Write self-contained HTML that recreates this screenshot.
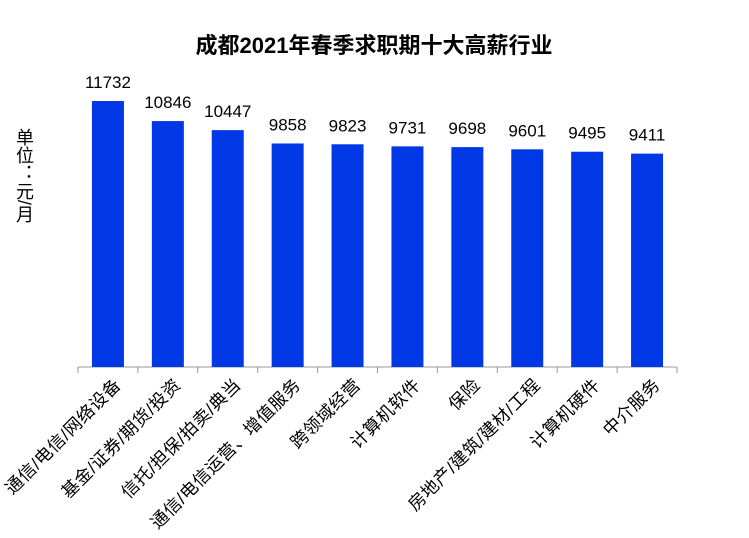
<!DOCTYPE html>
<html><head><meta charset="utf-8"><style>
body{margin:0;background:#fff;}
svg{display:block;font-family:"Liberation Sans","Noto Sans CJK SC",sans-serif;}
</style></head><body>
<svg width="749" height="538">
<text x="374" y="53" text-anchor="middle" font-size="22" font-weight="bold">成都2021年春季求职期十大高薪行业</text>
<text x="24" y="128" font-size="18" style="writing-mode:vertical-rl;glyph-orientation-vertical:0">单位：元/月</text>
<g id="plot"></g>
</svg>
<script>
const categories=["通信/电信/网络设备","基金/证券/期货/投资","信托/担保/拍卖/典当","通信/电信运营、增值服务","跨领域经营","计算机软件","保险","房地产/建筑/建材/工程","计算机硬件","中介服务"];
const values=[11732,10846,10447,9858,9823,9731,9698,9601,9495,9411];
const ns="http://www.w3.org/2000/svg";
const g=document.getElementById('plot');
const x0=78,x1=677,base=367,scale=266/11732;
const step=(x1-x0)/categories.length;
const xs=i=>x0+step*(i+0.5);
const ys=v=>base-v*scale;
function mk(t,a){const e=document.createElementNS(ns,t);for(const k in a)e.setAttribute(k,a[k]);g.appendChild(e);return e;}
const ax=mk('line',{x1:x0,x2:x1,y1:base,y2:base,stroke:'#999'});


for(let i=0;i<=categories.length;i++){const t=mk('line',{x1:x0+step*i,x2:x0+step*i,y1:base,y2:base+6,stroke:'#999'});

}
values.forEach((v,i)=>{
const cx=xs(i),w=32;
const r=mk('rect',{x:cx-w/2,y:ys(v),width:w,height:base-ys(v),fill:'#0038e6'});


const t=mk('text',{x:cx,y:ys(v)-13,'text-anchor':'middle','font-size':17});t.textContent=v;


const lx=cx+14,ly=386;
const c=mk('text',{x:lx,y:ly,'text-anchor':'end','font-size':17.5,'letter-spacing':0.5,transform:`rotate(-45 ${lx} ${ly})`});
c.textContent=categories[i];


});
</script>
</body></html>
